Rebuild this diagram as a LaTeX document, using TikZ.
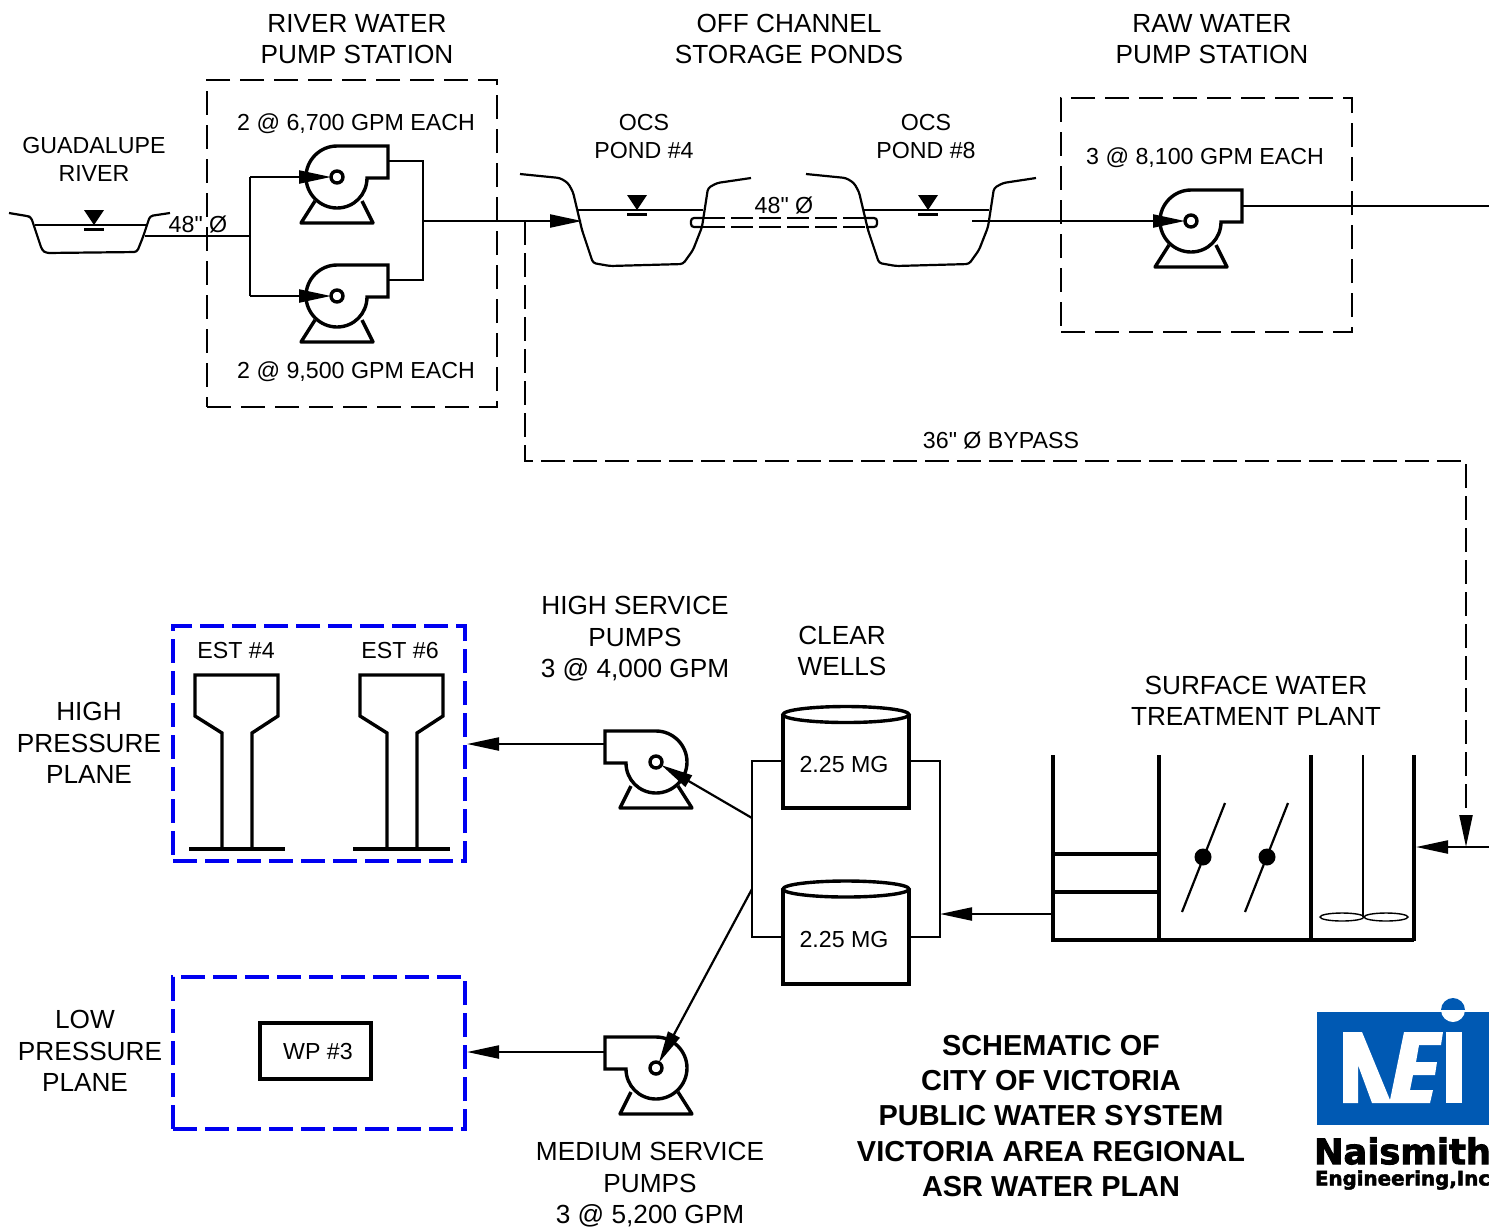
\documentclass[tikz,border=0pt]{standalone}
\usepackage{fontspec}
\setmainfont{Liberation Sans}
\newfontfamily\plainfont{Liberation Sans}
\newfontfamily\logofont[BoldFeatures={FakeBold=2.6}]{DejaVu Sans}
\usetikzlibrary{arrows.meta}
\definecolor{logoblue}{RGB}{0,89,179}
\definecolor{zoneblue}{RGB}{0,0,240}
\newcommand{\inchmark}{{\plainfont"}}
\tikzset{
  lbl/.style={font=\fontsize{13.1}{15.7}\selectfont,align=center,inner sep=0pt},
  lblsm/.style={font=\fontsize{11.6}{14}\selectfont,align=center,inner sep=0pt},
  title/.style={font=\bfseries\fontsize{14.45}{17.65}\selectfont,align=center,inner sep=0pt},
  pipe/.style={line width=1.1pt},
  thin bank/.style={line width=1.1pt,line join=round,rounded corners=1.5pt},
  flow/.style={pipe,-{Triangle[length=16pt,width=6.5pt]}},
  bypass/.style={pipe,dash pattern=on 12pt off 4pt},
  pstation/.style={line width=1pt,dash pattern=on 12pt off 5pt},
  zone/.style={line width=2pt,draw=zoneblue,dash pattern=on 12pt off 4pt},
  heavy/.style={line width=1.7pt,line join=miter},
  wall/.style={line width=1.65pt},
  pics/pump/.style={code={
    \draw[heavy,fill=white] (30,1) .. controls (30,17.5) and (17,31) .. (0,31)
      .. controls (-17,31) and (-31,17) .. (-31,0)
      .. controls (-31,-17) and (-17,-31) .. (0,-31)
      -- (51,-31) -- (51,1) -- cycle;
    \draw[heavy,line join=round] (-22,24) -- (-36,46) -- (36,46) -- (25,24);
    \draw[heavy,fill=white] (0,0) circle[radius=6];
  }},
  wlevel/.pic={
    \fill (-10,-15) -- (10,-15) -- (0,0) -- cycle;
    \draw[line width=1.1pt] (-10,4.5) -- (10,4.5);
  }
}
\begin{document}
\begin{tikzpicture}[x=.5pt,y=-.5pt]
\useasboundingbox (0,0) rectangle (1489,1228);

% --- top labels
\node[lbl] (t1) at (357,39) {RIVER WATER\\PUMP STATION};
\node[lbl] (t2) at (789,39) {OFF CHANNEL\\STORAGE PONDS};
\node[lbl] (t3) at (1212,39) {RAW WATER\\PUMP STATION};
\node[lblsm] (t4) at (94,159) {GUADALUPE\\RIVER};
\node[lblsm] (t5) at (644,137) {OCS\\POND \#4};
\node[lblsm] (t6) at (926,137) {OCS\\POND \#8};
\node[lblsm] (t7) at (356,124) {2 @ 6,700 GPM EACH};
\node[lblsm] (t8) at (356,372) {2 @ 9,500 GPM EACH};
\node[lblsm] (t9) at (1205,158) {3 @ 8,100 GPM EACH};
\node[lblsm] (t10) at (198,224) {48\inchmark{} Ø};
\node[lblsm] (t11) at (784,205) {48\inchmark{} Ø};
\node[lblsm] (t12) at (1001,440) {36\inchmark{} Ø BYPASS};

% --- dashed station boxes
\node[pstation,draw,minimum width=145pt,minimum height=163.5pt,inner sep=0pt] (rws) at (352,243.5) {};
\node[pstation,draw,minimum width=145.5pt,minimum height=117pt,inner sep=0pt] (raw) at (1206.5,215) {};

% --- named points
\coordinate (hub1) at (337,177);
\coordinate (hub2) at (337,296);
\coordinate (hub3) at (1191,221);
\coordinate (hub4) at (656,762);
\coordinate (hub5) at (656,1068);
\coordinate (rivout) at (145,236);
\coordinate (jL) at (250,236);
\coordinate (jLt) at (250,177);
\coordinate (jLb) at (250,296);
\coordinate (out1) at (388,161);
\coordinate (out2) at (388,280);
\coordinate (jRt) at (423,161);
\coordinate (jRb) at (423,280);
\coordinate (jR) at (423,221);
\coordinate (pond4in) at (582,221);
\coordinate (bypass0) at (525,221);
\coordinate (bypass1) at (525,461);
\coordinate (bypass2) at (1466,461);
\coordinate (bypass3) at (1466,847);
\coordinate (bypassbase) at (1466,815);
\coordinate (swin) at (1489,847);
\coordinate (swtip) at (1416,847);
\coordinate (pond8out) at (972,221);
\coordinate (rawout) at (1243,206);
\coordinate (rawend) at (1489,206);
\coordinate (cwT) at (752,761);
\coordinate (cwB) at (752,937);
\coordinate (cwTr) at (940,761);
\coordinate (cwBr) at (940,937);
\coordinate (cwS1) at (752,818);
\coordinate (cwS2) at (752,889);
\coordinate (plantout) at (1053,914);
\coordinate (cwin) at (940,914);
\coordinate (hsout) at (604,744);
\coordinate (msout) at (604,1052);
\coordinate (hptip) at (467,744);
\coordinate (lptip) at (467,1052);

% --- river
\draw[thin bank] (9,213) -- (27,216) -- (31,217) -- (42,250) -- (46,253) -- (137,252) -- (143,237) -- (150,216) -- (170,213);
\draw[pipe] (35,225) -- (147,225);
\pic at (94,225) {wlevel};

% --- ponds
\draw[thin bank] (520,174) -- (560,178) -- (568,183) -- (573,192) -- (582,230) -- (593,263) -- (610,266) -- (683,264) -- (693,250) -- (702,227) -- (708,188) -- (717,183) -- (751,178);
\draw[pipe] (578,210) -- (703,210);
\pic at (637,210) {wlevel};
\draw[thin bank] (806,174) -- (846,178) -- (854,183) -- (859,192) -- (868,230) -- (879,263) -- (896,266) -- (969,264) -- (979,250) -- (988,227) -- (994,188) -- (1003,183) -- (1036,178);
\draw[pipe] (864,210) -- (989,210);
\pic at (928,210) {wlevel};

% --- pipe between ponds
\draw[pipe,rounded corners=1.5pt] (703,218) -- (691,218) -- (691,227) -- (703,227);
\draw[pipe,rounded corners=1.5pt] (866,218) -- (877,218) -- (877,227) -- (866,227);
\draw[pipe,dash pattern=on 11pt off 3pt] (703,218) -- (866,218);
\draw[pipe,dash pattern=on 11pt off 3pt] (703,227) -- (866,227);

% --- flow lines, top
\draw[pipe] (rivout) -- (jL);
\draw[pipe] (jLt) -- (jLb);
\draw[pipe] (out1) -- (jRt) -- (jRb) -- (out2);
\draw[flow] (jR) -- (pond4in);
\draw[bypass] (bypass0) -- (bypass1) -- (bypass2) -- (bypassbase);
\draw[pipe] (rawout) -- (rawend);

% --- pumps
\pic at (hub1) {pump};
\pic at (hub2) {pump};
\pic at (hub3) {pump};
\pic[xscale=-1] at (hub4) {pump};
\pic[xscale=-1] at (hub5) {pump};
\draw[flow,shorten >=3pt] (jLt) -- (hub1);
\draw[flow,shorten >=3pt] (jLb) -- (hub2);
\draw[flow,shorten >=3pt] (pond8out) -- (hub3);
\draw[flow,shorten >=3pt] (cwS1) -- (hub4);
\draw[flow,shorten >=3pt] (cwS2) -- (hub5);
\draw[flow] (hsout) -- (hptip);
\draw[flow] (msout) -- (lptip);

% --- bypass end
\draw[flow] (swin) -- (swtip);
\draw[flow] (bypassbase) -- (bypass3);

% --- lower labels
\node[lbl] (t13) at (635,639) {HIGH SERVICE\\PUMPS\\3 @ 4,000 GPM};
\node[lbl] (t14) at (842,651) {CLEAR\\WELLS};
\node[lbl] (t15) at (1256,701) {SURFACE WATER\\TREATMENT PLANT};
\node[lbl] (t16) at (89,743) {HIGH\\PRESSURE\\PLANE};
\node[lbl] (t17) at (90,1051) {LOW\hspace*{5pt}\\PRESSURE\\PLANE\hspace*{5pt}};
\node[lbl] (t18) at (650,1185) {MEDIUM SERVICE\\PUMPS\\3 @ 5,200 GPM};
\node[lblsm] (t19) at (236,650) {EST \#4};
\node[lblsm] (t20) at (400,650) {EST \#6};

% --- pressure zones
\node[zone,draw,minimum width=146pt,minimum height=117.5pt,inner sep=0pt] (hp) at (319,743.5) {};
\node[zone,draw,minimum width=146pt,minimum height=76pt,inner sep=0pt] (lp) at (319,1053) {};
\node[heavy,draw,minimum width=55.5pt,minimum height=28pt,inner sep=0pt,font=\fontsize{11.6}{14}\selectfont] (wp) at (315.5,1051) {\hspace*{2.5pt}WP \#3};

% --- elevated tanks
\draw[heavy] (222,849) -- (222,733) -- (195,716) -- (195,675) -- (278,675) -- (278,716) -- (252,733) -- (252,849);
\draw[heavy] (189,849) -- (285,849);
\draw[heavy] (387,849) -- (387,733) -- (360,716) -- (360,675) -- (443,675) -- (443,716) -- (417,733) -- (417,849);
\draw[heavy] (353,849) -- (450,849);

% --- clear wells
\draw[pipe] (783,761) -- (cwT) -- (cwB) -- (783,937);
\draw[pipe] (909,761) -- (cwTr) -- (cwBr) -- (909,937);
\draw[flow] (plantout) -- (cwin);
\draw[heavy,fill=white] (783,714) -- (783,808) -- (909,808) -- (909,714);
\draw[heavy,fill=white] (846,714.5) ellipse[x radius=63,y radius=8];
\node[lblsm] (cw1) at (844,764) {2.25 MG};
\draw[heavy,fill=white] (783,889) -- (783,984) -- (909,984) -- (909,889);
\draw[heavy,fill=white] (846,889) ellipse[x radius=63,y radius=8];
\node[lblsm] (cw2) at (844,939) {2.25 MG};

% --- treatment plant
\draw[wall] (1053,755) -- (1053,940) -- (1414,940);
\draw[wall] (1159,755) -- (1159,940);
\draw[wall] (1311,755) -- (1311,940);
\draw[line width=2.1pt] (1414,755) -- (1414,941);
\draw[wall] (1053,854) -- (1159,854);
\draw[wall] (1053,892) -- (1159,892);
\draw[line width=1.1pt] (1182,912) -- (1225,803);
\draw[line width=1.1pt] (1245,912) -- (1288,803);
\fill (1203,857) circle[radius=8.5];
\fill (1267,857) circle[radius=8.5];
\draw[pipe] (1363,755) -- (1363,917);
\draw[line width=.7pt] (1342,917) ellipse[x radius=22,y radius=4];
\draw[line width=.7pt] (1386,917) ellipse[x radius=22,y radius=4];

% --- title
\node[title] (ttl) at (1051,1116) {SCHEMATIC OF\\CITY OF VICTORIA\\PUBLIC WATER SYSTEM\\VICTORIA AREA REGIONAL\\ASR WATER PLAN};

% --- logo
\fill[logoblue] (1317,1012) rectangle (1489,1125);
\fill[logoblue] (1441,1010) .. controls (1441,1003) and (1447,998) .. (1453,998) .. controls (1459,998) and (1465,1003) .. (1465,1010) -- cycle;
\fill[white] (1441,1010) .. controls (1441,1017) and (1447,1022) .. (1453,1022) .. controls (1459,1022) and (1465,1017) .. (1465,1010) -- cycle;
\fill[white] (1343,1032) -- (1362,1032) -- (1390,1100) -- (1404,1032) -- (1443,1032) -- (1441,1045) -- (1419,1045) -- (1416,1062) -- (1437,1062) -- (1435,1075) -- (1413,1075) -- (1410,1090) -- (1433,1090) -- (1430,1103) -- (1372,1103) -- (1358,1065) -- (1358,1103) -- (1343,1103) -- cycle;
\fill[white] (1446,1032) rectangle (1462,1103);
\node[inner sep=0pt,font=\logofont\bfseries\fontsize{17.6}{18}\selectfont] (nm) at (1402.5,1151) {Naismith};
\node[inner sep=0pt,font=\logofont\bfseries\fontsize{9.9}{12}\selectfont] (ei) at (1402.5,1180) {Engineering,Inc};
\end{tikzpicture}
\end{document}
